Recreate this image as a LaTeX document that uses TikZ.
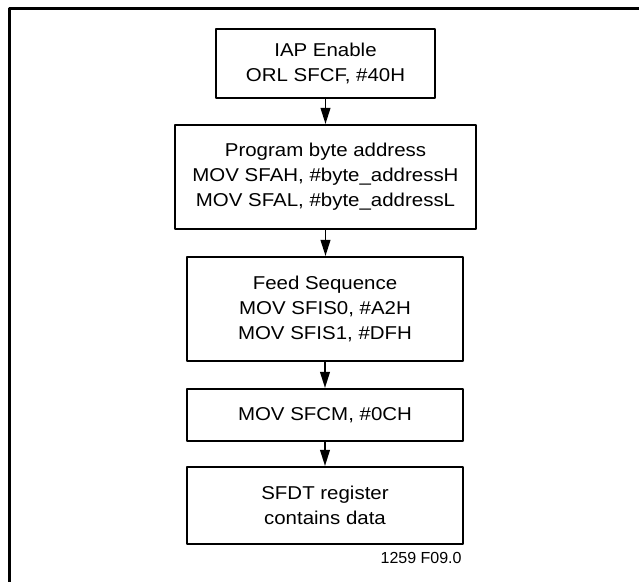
\documentclass[tikz,border=0pt]{standalone}
\usepackage{fontspec}
\setmainfont{Liberation Sans}[FakeStretch=1.1]
\newfontfamily\figfont{Liberation Sans}
\usetikzlibrary{arrows.meta}
\begin{document}
\begin{tikzpicture}[x=0.5pt, y=-0.5pt, font=\fontsize{9.3}{12.5}\selectfont, line join=round, >={Triangle[length=8pt,width=4.8pt]},
	box/.style={draw, line width=1pt, align=center, inner sep=0pt, minimum width=138pt}]
	\useasboundingbox (0,0) rectangle (639,582);
	\draw[line width=1.5pt] (9,582) -- (9,9) -- (639,9);
	\path
	(325.5,63.5) node[box, minimum width=109.5pt, minimum height=34.5pt] (b1) {IAP Enable\\ORL SFCF, \#40H}
	(325.5,177) node[box, minimum width=150.5pt, minimum height=52pt] (b2) {Program byte address\\MOV SFAH, \#byte\_addressH\\MOV SFAL, \#byte\_addressL}
	(325,309) node[box, minimum height=52pt] (b3) {Feed Sequence\\MOV SFIS0, \#A2H\\MOV SFIS1, \#DFH}
	(325,415) node[box, minimum height=26pt] (b4) {MOV SFCM, \#0CH}
	(325,505.5) node[box, minimum height=38.5pt] (b5) {SFDT register\\contains data}
	(462,564) node[anchor=base east, inner sep=0pt, font=\figfont\fontsize{8}{9.6}\selectfont] (fig) {1259 F09.0}
	;
	\foreach \a/\b in {b1/b2,b2/b3,b3/b4,b4/b5} \draw[->, line width=0.9pt] (\a.south) -- (\a.south|-\b.north);
\end{tikzpicture}
\end{document}
